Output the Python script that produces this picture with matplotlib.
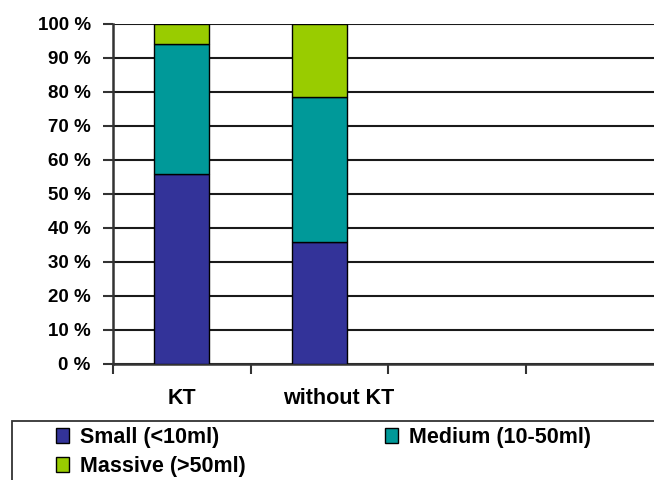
#Gráfico de barras empilhadas (100 %) - KT vs without KT
import matplotlib
matplotlib.use('Agg')
import matplotlib.pyplot as plt
from matplotlib.patches import Rectangle
import numpy as np

plt.rcParams['font.family'] = ['Liberation Sans', 'DejaVu Sans']
plt.rcParams['font.weight'] = 'bold'

#Dados
categorias = ['KT', 'without KT']
small = [56, 36]
medium = [38, 42.5]
massive = [6, 21.5]
series_nomes = ['Small (<10ml)', 'Medium (10-50ml)', 'Massive (>50ml)']
yticks = list(range(0, 101, 10))

cores = ['#333399', '#009999', '#99CC00']

fig = plt.figure(figsize=(6.54, 4.80), dpi=100)
ax = fig.add_axes([113 / 654, 1 - 364 / 480, 550 / 654, 340 / 480])

x = np.arange(len(categorias))
base = np.zeros(len(categorias))
barras = []
for valores, cor, nome in zip([small, medium, massive], cores, series_nomes):
    b = ax.bar(x, valores, width=0.40, bottom=base, color=cor,
               edgecolor='black', linewidth=1, label=nome, zorder=3)
    barras.append(b)
    base = base + np.array(valores)

ax.set_xlim(-0.5, 3.5)
ax.set_ylim(0, 100)
ax.set_yticks(yticks)
ax.set_yticklabels([f'{v} %' for v in yticks], fontsize=13.5, fontweight='bold')
ax.yaxis.grid(True, color='#1a1a1a', linewidth=1.5, zorder=0)
ax.set_axisbelow(True)

#marcas do eixo x nos limites das categorias
ax.set_xticks(np.arange(-0.5, 3.6, 1.0))
ax.set_xticklabels([])
ax.tick_params(axis='x', direction='out', length=7, width=1.5, color='#333333')
ax.tick_params(axis='y', direction='out', length=7, width=1.5, color='#333333', pad=9)

#rótulos das categorias
deslocamento = [0.0, 0.14]
for xi, nome, d in zip(x, categorias, deslocamento):
    ax.text(xi + d, -10, nome, ha='center', va='center', fontsize=15.5,
            fontweight='bold', transform=ax.transData, clip_on=False)

for lado in ['top', 'right']:
    ax.spines[lado].set_visible(False)
ax.spines['left'].set_linewidth(1.8)
ax.spines['left'].set_color('#333333')
ax.spines['bottom'].set_linewidth(1.8)
ax.spines['bottom'].set_color('#333333')

#caixa da legenda (cortada na borda)
fig.patches.append(Rectangle((12 / 654, -0.1), 1.2, (480 - 421) / 480 + 0.1,
                             transform=fig.transFigure, fill=False,
                             edgecolor='#333333', linewidth=1.3))

#ordem: coluna 1 = Small, Massive ; coluna 2 = Medium
ordem = [0, 2, 1]
fig.legend(handles=[barras[i] for i in ordem],
           labels=[series_nomes[i] for i in ordem], ncol=2, frameon=False,
           loc='upper left', bbox_to_anchor=(56 / 654, 1 - 427 / 480),
           borderpad=0, borderaxespad=0, handlelength=0.6,
           handleheight=0.7, handletextpad=0.5, labelspacing=0.38,
           columnspacing=6.5, prop={'weight': 'bold', 'size': 15.5})

plt.savefig('out.png', dpi=100)
